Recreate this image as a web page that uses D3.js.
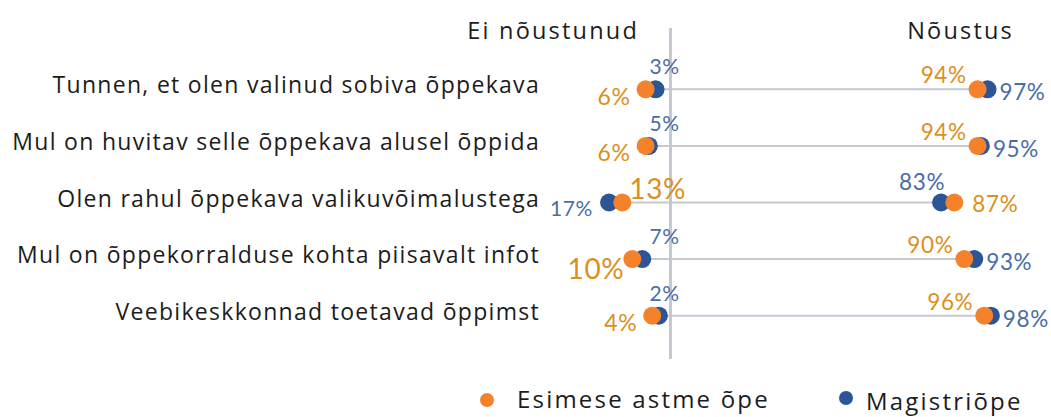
<!DOCTYPE html>
<html>
<head>
<meta charset="utf-8">
<script src="https://cdn.jsdelivr.net/npm/d3@7"></script>
<style>
  html, body { margin: 0; padding: 0; background: #ffffff; }
  svg { display: block; }
</style>
</head>
<body>
<svg id="chart" width="1051" height="417"></svg>
<script>
// ---- Data ----
const categories = [
  "Tunnen, et olen valinud sobiva õppekava",
  "Mul on huvitav selle õppekava alusel õppida",
  "Olen rahul õppekava valikuvõimalustega",
  "Mul on õppekorralduse kohta piisavalt infot",
  "Veebikeskkonnad toetavad õppimst"
];
const seriesNames = ["Esimese astme õpe", "Magistriõpe"];
const disagreeBachelor = [6, 6, 13, 10, 4];
const disagreeMaster   = [3, 5, 17, 7, 2];
const agreeBachelor    = [94, 94, 87, 90, 96];
const agreeMaster      = [97, 95, 83, 93, 98];
const sideTitles = ["Ei nõustunud", "Nõustus"];

// ---- Styles ----
const ORANGE = "#F5822A", ORANGE_TXT = "#DB9020";
const BLUE = "#2B5597", BLUE_TXT = "#4A6DA8";
const GREY = "#C3C8D1";
const TXT = "#1c1c1c";
const LBL_FONT = "Lato, 'Open Sans', sans-serif";
const CAT_FONT = "'Open Sans', Roboto, sans-serif";

const svg = d3.select("#chart");

const x = d3.scaleLinear().domain([0, 100]).range([665.5, 997.5]);
const y = d3.scalePoint().domain(categories).range([89.3, 315.7]);
const axisAt = 1.5;

// vertical axis line
svg.append("line")
  .attr("x1", x(axisAt)).attr("x2", x(axisAt))
  .attr("y1", 28).attr("y2", 359)
  .attr("stroke", GREY).attr("stroke-width", 3);

// side titles
const titles = svg.append("g").attr("font-family", CAT_FONT).attr("font-size", 23.5)
  .attr("letter-spacing", "2.2px").attr("fill", TXT).attr("text-anchor", "end");
titles.append("text").attr("x", 639).attr("y", 38.5).text(sideTitles[0]);
titles.append("text").attr("x", 1014).attr("y", 38.5).text(sideTitles[1]);

const rows = categories.map((c, i) => ({
  cat: c,
  dB: disagreeBachelor[i], dM: disagreeMaster[i],
  aB: agreeBachelor[i], aM: agreeMaster[i]
}));

// category labels
svg.append("g").selectAll("text").data(rows).join("text")
  .attr("x", 540).attr("y", d => y(d.cat) + 4)
  .attr("text-anchor", "end")
  .attr("font-family", CAT_FONT).attr("font-size", 23)
  .attr("letter-spacing", "1.3px")
  .attr("fill", TXT).text(d => d.cat);

// connecting lines
svg.append("g").selectAll("line").data(rows).join("line")
  .attr("x1", d => x(-Math.max(d.dB, d.dM)))
  .attr("x2", d => x(Math.max(d.aB, d.aM)))
  .attr("y1", d => y(d.cat)).attr("y2", d => y(d.cat))
  .attr("stroke", GREY).attr("stroke-width", 2);

// dots: master (blue) below, bachelor (orange) on top
const R = 9;
const gDots = svg.append("g");
rows.forEach(d => {
  const yy = y(d.cat);
  [[-d.dM, BLUE], [d.aM, BLUE]].forEach(([v, c]) =>
    gDots.append("circle").attr("cx", x(v)).attr("cy", yy).attr("r", R).attr("fill", c));
});
rows.forEach(d => {
  const yy = y(d.cat);
  [[-d.dB, ORANGE], [d.aB, ORANGE]].forEach(([v, c]) =>
    gDots.append("circle").attr("cx", x(v)).attr("cy", yy).attr("r", R).attr("fill", c));
});

// value labels
const gLbl = svg.append("g").attr("font-family", LBL_FONT).attr("letter-spacing", "0.6px");
function label(tx, ty, anchor, text, color, size) {
  gLbl.append("text").attr("x", tx).attr("y", ty)
    .attr("text-anchor", anchor).attr("font-size", size)
    .attr("fill", color).text(text);
}
rows.forEach(d => {
  const yy = y(d.cat);
  // left side
  if (d.dB >= d.dM) {
    const large = d.dB >= 10;
    label(x(-d.dB) - (large ? 8 : 15), yy + (large ? 20 : 15.5), "end", d.dB + "%", ORANGE_TXT, large ? 28 : 23);
    label(x(0) - 1, yy - 15, "middle", d.dM + "%", BLUE_TXT, 21);
  } else {
    label(x(-d.dM) - 16, yy + 13.5, "end", d.dM + "%", BLUE_TXT, 21);
    label(x(-d.dB) + 7, yy - 4, "start", d.dB + "%", ORANGE_TXT, 28);
  }
  // right side
  if (d.aM >= d.aB) {
    label(x(d.aB) - 11, yy - 6, "end", d.aB + "%", ORANGE_TXT, 22.5);
    label(x(d.aM) + 12, yy + 11, "start", d.aM + "%", BLUE_TXT, 22.5);
  } else {
    label(x(d.aM) + 4, yy - 12.5, "end", d.aM + "%", BLUE_TXT, 22.5);
    label(x(d.aB) + 18, yy + 9.5, "start", d.aB + "%", ORANGE_TXT, 22.5);
  }
});

// legend
const legend = svg.append("g").attr("font-family", CAT_FONT).attr("font-size", 24)
  .attr("letter-spacing", "2.2px").attr("fill", TXT);
const legendItems = [
  { name: seriesNames[0], color: ORANGE, cx: 487, cy: 400, tx: 517, ty: 407.5 },
  { name: seriesNames[1], color: BLUE, cx: 846, cy: 398, tx: 866, ty: 410 }
];
legendItems.forEach(it => {
  legend.append("circle").attr("cx", it.cx).attr("cy", it.cy).attr("r", 7).attr("fill", it.color);
  legend.append("text").attr("x", it.tx).attr("y", it.ty).text(it.name);
});
</script>
</body>
</html>
